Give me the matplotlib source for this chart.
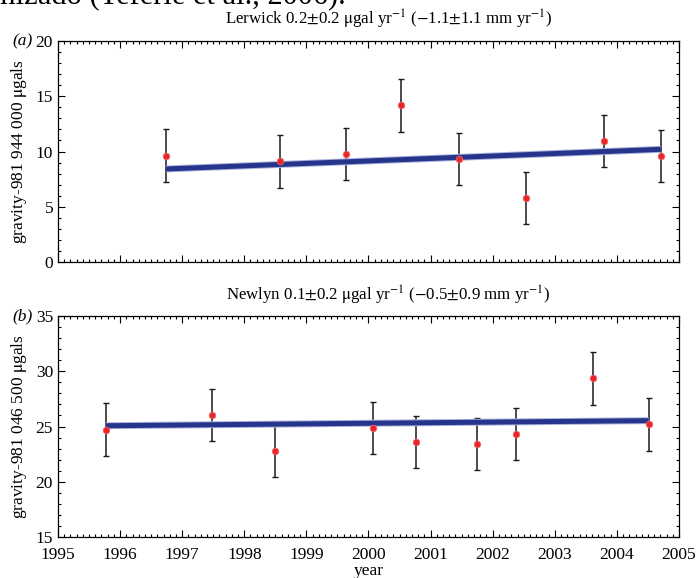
import matplotlib
matplotlib.use("Agg")
import matplotlib.pyplot as plt
from matplotlib.ticker import MultipleLocator
import numpy as np

plt.rcParams['font.family'] = ['Liberation Serif', 'DejaVu Serif']
plt.rcParams['mathtext.fontset'] = 'stix'

# Lerwick gravity data (value - 981 944 000 microgal)
lerwick_year = [1996.74, 1998.57, 1999.63, 2000.52, 2001.46, 2002.53, 2003.79, 2004.71]
lerwick_val = [9.6, 9.1, 9.75, 14.2, 9.35, 5.8, 10.95, 9.6]
lerwick_err = [2.4, 2.4, 2.35, 2.4, 2.35, 2.35, 2.35, 2.35]
lerwick_fit = [8.42, 10.2]

# Newlyn gravity data (value - 981 046 500 microgal)
newlyn_year = [1995.77, 1997.48, 1998.50, 2000.08, 2000.76, 2001.75, 2002.37, 2003.62, 2004.51]
newlyn_val = [24.7, 26.07, 22.8, 24.85, 23.62, 23.4, 24.32, 29.35, 25.2]
newlyn_err = [2.4, 2.35, 2.35, 2.35, 2.35, 2.35, 2.37, 2.37, 2.4]
newlyn_fit = [25.07, 25.53]

years_range = (1995, 2005)

fig = plt.figure(figsize=(6.96, 5.78), dpi=100)
ax1 = fig.add_axes([0.0833, 0.5467, 0.8923, 0.3823])
ax2 = fig.add_axes([0.0833, 0.0709, 0.8923, 0.3824])


def draw_panel(ax, yr, val, err, fit, ylim):
    ax.errorbar(yr, val, yerr=err, fmt='none', ecolor='#1a1a1a', elinewidth=1.1,
                capsize=2.2, capthick=1.0, zorder=2)
    fx = [yr[0], yr[-1]]
    ax.plot(fx, fit, color='#aab3dc', lw=5.0, solid_capstyle='butt', zorder=3)
    ax.plot(fx, fit, color='#27348b', lw=3.6, solid_capstyle='butt', zorder=3)
    ax.plot(yr, val, 'o', color='#e8262b', ms=4.8, mec='#f07070', mew=0.5, zorder=4)
    ax.set_xlim(*years_range)
    ax.set_ylim(*ylim)
    ax.xaxis.set_major_locator(MultipleLocator(1))
    ax.xaxis.set_minor_locator(MultipleLocator(0.1))
    ax.yaxis.set_major_locator(MultipleLocator(5))
    ax.yaxis.set_minor_locator(MultipleLocator(1))
    ax.tick_params(which='both', direction='in', top=True, right=True,
                   labelsize=12.5, width=0.8)
    ax.tick_params(which='major', length=5)
    ax.tick_params(which='minor', length=2.5)
    ax.tick_params(axis='x', pad=7)
    for s in ax.spines.values():
        s.set_linewidth(0.9)


draw_panel(ax1, lerwick_year, lerwick_val, lerwick_err, lerwick_fit, (0, 20))
draw_panel(ax2, newlyn_year, newlyn_val, newlyn_err, newlyn_fit, (15, 35))
ax1.tick_params(labelbottom=False)

ax1.set_ylabel(r'gravity-981 944 000 $\mathrm{\mu}$gals', fontsize=12.5, labelpad=5)
ax2.set_ylabel(r'gravity-981 046 500 $\mathrm{\mu}$gals', fontsize=12.5, labelpad=5)
ax2.set_xlabel('year', fontsize=12.5, labelpad=0)

fig.text(0.558, 0.967, r'Lerwick 0.2$\pm$0.2 $\mathrm{\mu}$gal yr$^{-1}$ ($-$1.1$\pm$1.1 mm yr$^{-1}$)',
         ha='center', va='center', fontsize=12.2)
fig.text(0.558, 0.4896, r'Newlyn 0.1$\pm$0.2 $\mathrm{\mu}$gal yr$^{-1}$ ($-$0.5$\pm$0.9 mm yr$^{-1}$)',
         ha='center', va='center', fontsize=12.2)
fig.text(0.018, 0.929, '(a)', style='italic', fontsize=12.5, va='center')
fig.text(0.018, 0.4533, '(b)', style='italic', fontsize=12.5, va='center')

# clipped running text from the page above the figure
fig.text(-0.012, 0.9935, 'mizado (Teferle et al., 2006).', fontsize=22, va='baseline')

fig.savefig('out.png', dpi=100)
